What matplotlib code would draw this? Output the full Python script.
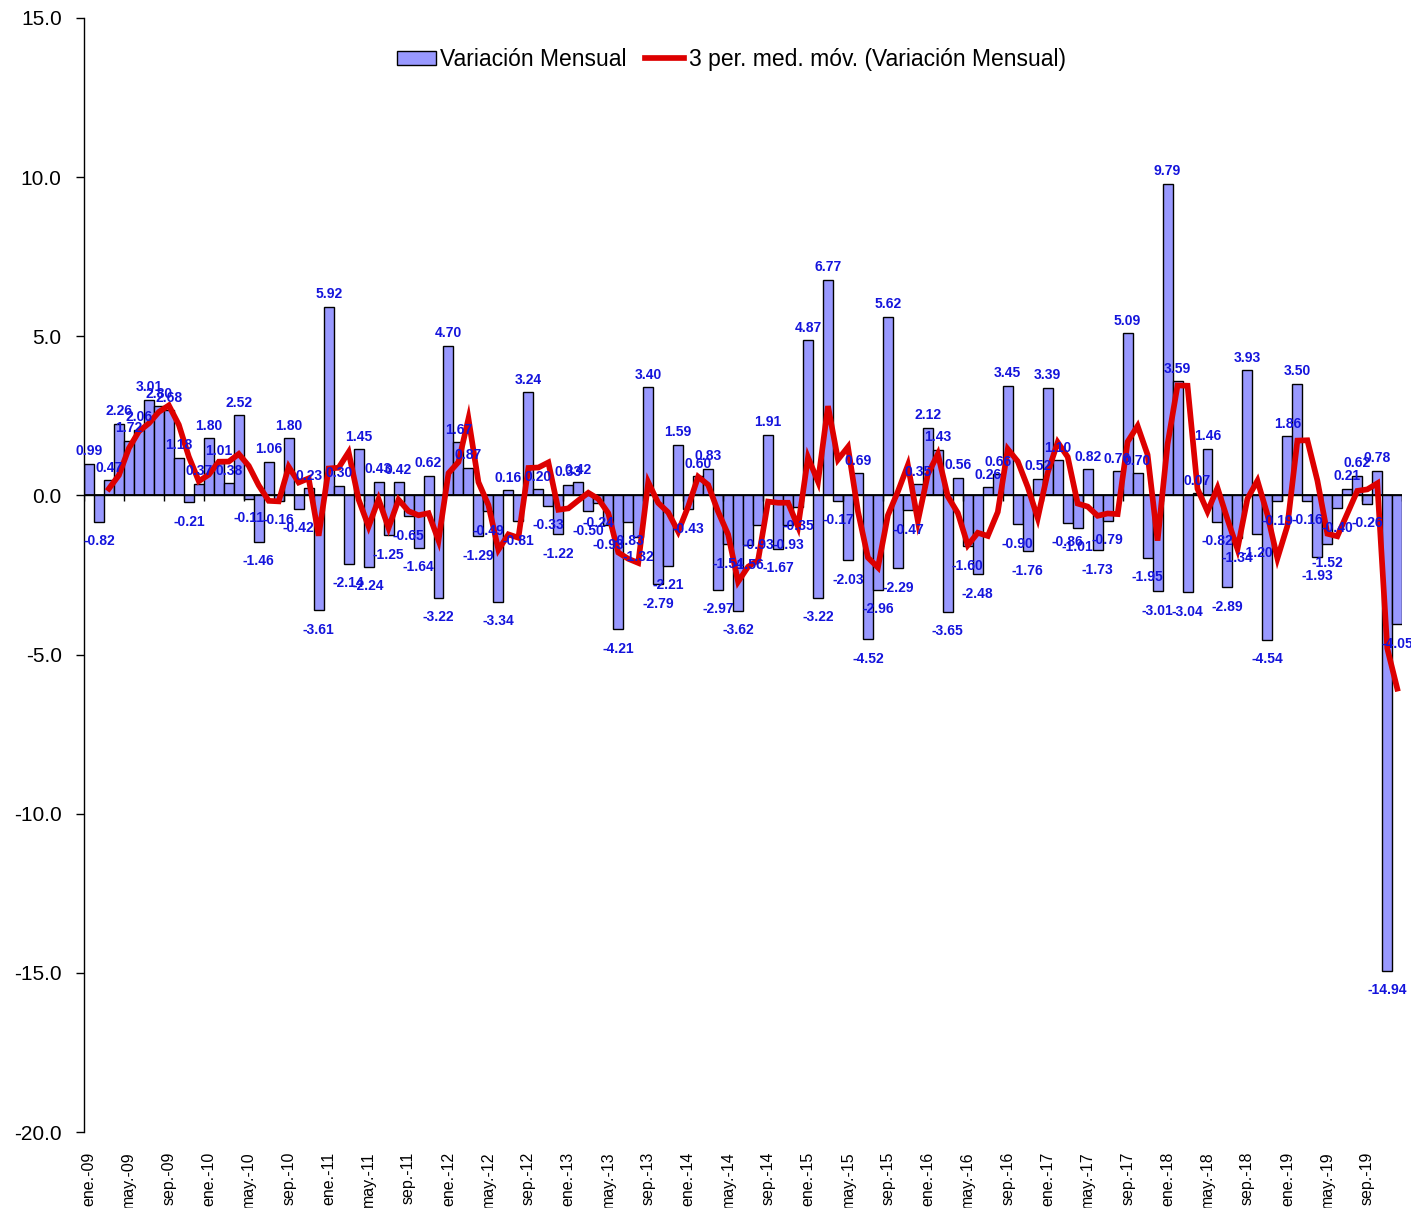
import numpy as np
import pandas as pd
import matplotlib
matplotlib.use('Agg')
import matplotlib.pyplot as plt
from matplotlib.patches import Patch
from matplotlib.lines import Line2D

plt.rcParams['font.family'] = ['Liberation Sans', 'DejaVu Sans']

# Variación mensual, ene-09 .. dic-19
v2009 = [0.99, -0.82, 0.47, 2.26, 1.72, 2.06, 3.01, 2.80, 2.68, 1.18, -0.21, 0.37]
v2010 = [1.80, 1.01, 0.38, 2.52, -0.11, -1.46, 1.06, -0.16, 1.80, -0.42, 0.23, -3.61]
v2011 = [5.92, 0.30, -2.14, 1.45, -2.24, 0.43, -1.25, 0.42, -0.65, -1.64, 0.62, -3.22]
v2012 = [4.70, 1.67, 0.87, -1.29, -0.49, -3.34, 0.16, -0.81, 3.24, 0.20, -0.33, -1.22]
v2013 = [0.33, 0.42, -0.50, -0.24, -0.93, -4.21, -0.83, -1.32, 3.40, -2.79, -2.21, 1.59]
v2014 = [-0.43, 0.60, 0.83, -2.97, -1.54, -3.62, -1.56, -0.93, 1.91, -1.67, -0.93, -0.35]
v2015 = [4.87, -3.22, 6.77, -0.17, -2.03, 0.69, -4.52, -2.96, 5.62, -2.29, -0.47, 0.35]
v2016 = [2.12, 1.43, -3.65, 0.56, -1.60, -2.48, 0.26, 0.66, 3.45, -0.90, -1.76, 0.52]
v2017 = [3.39, 1.10, -0.86, -1.01, 0.82, -1.73, -0.79, 0.76, 5.09, 0.70, -1.95, -3.01]
v2018 = [9.79, 3.59, -3.04, 0.07, 1.46, -0.82, -2.89, -1.34, 3.93, -1.20, -4.54, -0.19]
v2019 = [1.86, 3.50, -0.16, -1.93, -1.52, -0.40, 0.21, 0.62, -0.26, 0.78, -14.94, -4.05]

years = ['09', '10', '11', '12', '13', '14', '15', '16', '17', '18', '19']
label_months = ['ene.', 'may.', 'sep.']

values = np.array(v2009 + v2010 + v2011 + v2012 + v2013 + v2014 +
                  v2015 + v2016 + v2017 + v2018 + v2019)
ma3 = pd.Series(values).rolling(3).mean()
x = np.arange(len(values))

tick_pos = np.arange(0, len(values), 4)
tick_labels = [f"{m}-{y}" for y in years for m in label_months][:len(tick_pos)]

bar_color = '#9999ff'
line_color = '#dd0000'
label_color = '#1414dc'

fig = plt.figure(figsize=(14.11, 12.08), dpi=100)
ax = fig.add_axes([0.0595, 0.0629, 0.9343, 0.9222])

ax.bar(x, values, width=1.0, color=bar_color, edgecolor='black', linewidth=1.0, zorder=2)
ax.plot(x, ma3, color=line_color, linewidth=4.1, zorder=4, solid_joinstyle='miter')

# etiquetas de datos
for xi, v in zip(x, values):
    if v >= 0:
        ax.annotate(f"{v:.2f}", (xi, v), xytext=(0, 4), textcoords='offset points',
                    ha='center', va='bottom', fontsize=10, fontweight='bold',
                    color=label_color, zorder=5, annotation_clip=False)
    else:
        ax.annotate(f"{v:.2f}", (xi, v), xytext=(0, -9), textcoords='offset points',
                    ha='center', va='top', fontsize=10, fontweight='bold',
                    color=label_color, zorder=5, annotation_clip=False)

# eje de categorías en cero
ax.axhline(0, color='black', linewidth=1.3, zorder=3)
bounds = np.arange(-0.5, len(values), 4)
ax.vlines(bounds, -0.19, 0, color='black', linewidth=1.0, zorder=3)

ax.set_xlim(-0.5, len(values) - 0.5)
ax.set_ylim(-20, 15)
ax.set_yticks(np.arange(-20, 16, 5))
ax.set_yticklabels([f"{t:.1f}" for t in np.arange(-20, 16, 5)], fontsize=15)
ax.tick_params(axis='y', direction='out', length=6, width=1, pad=10)

ax.set_xticks(tick_pos)
ax.set_xticklabels(tick_labels, rotation=90, fontsize=11.5, va='top', ha='center')
ax.tick_params(axis='x', length=0, pad=14)

for s in ['top', 'right', 'bottom']:
    ax.spines[s].set_visible(False)
ax.spines['left'].set_linewidth(1.0)

handles = [Patch(facecolor=bar_color, edgecolor='black', linewidth=1.0),
           Line2D([0], [0], color=line_color, linewidth=4.1)]
ax.legend(handles, ['Variación Mensual', '3 per. med. móv. (Variación Mensual)'],
          loc='center', bbox_to_anchor=(0.491, 0.963), ncol=2, frameon=False,
          fontsize=16.5, handlelength=1.7, handleheight=0.55, handletextpad=0.2,
          columnspacing=0.8)

fig.savefig('out.png', dpi=100)
